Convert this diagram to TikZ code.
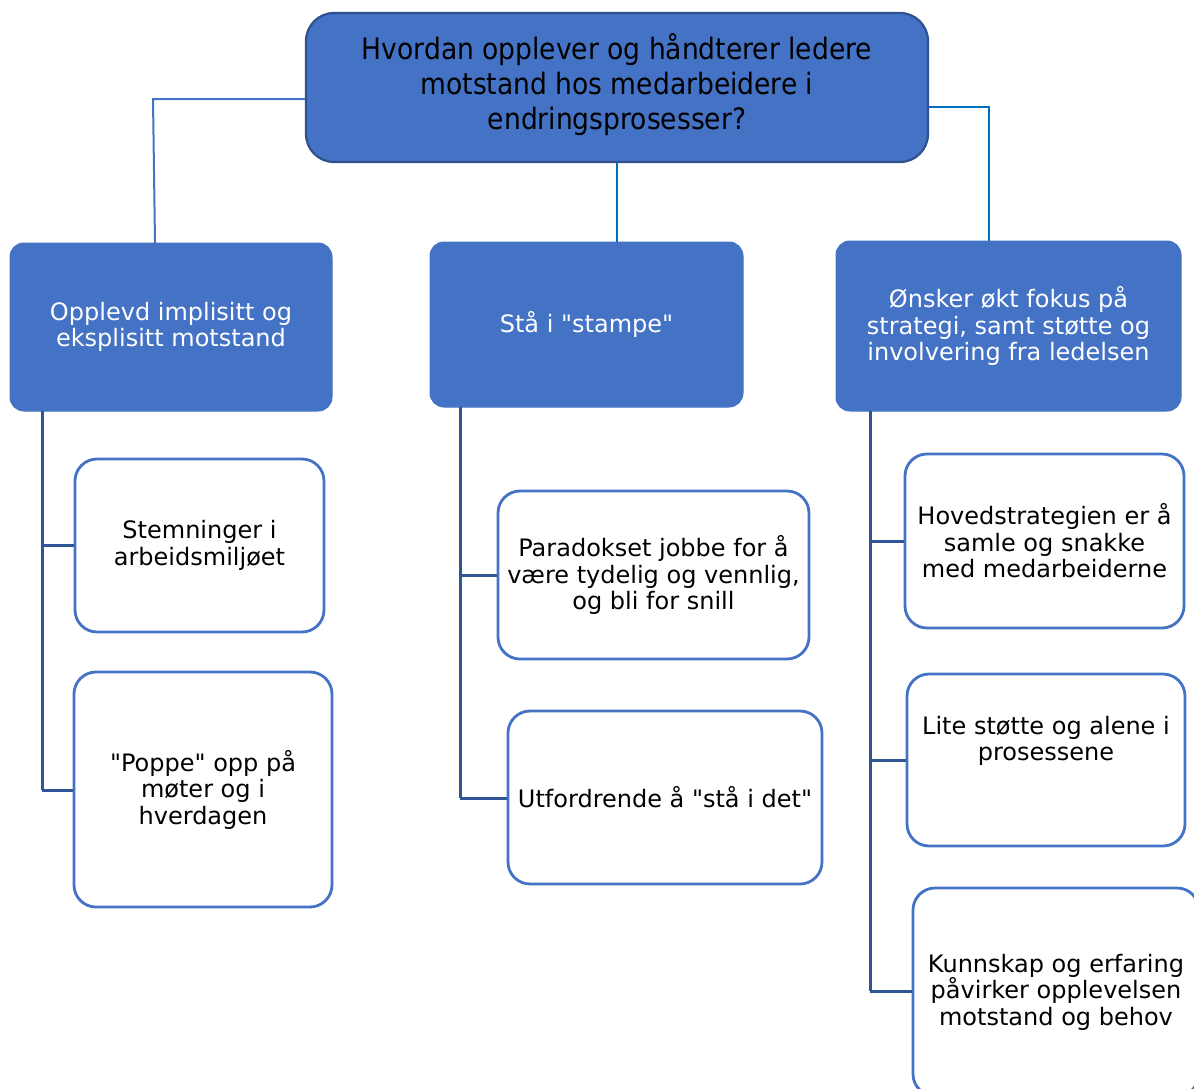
\documentclass[tikz,border=0pt]{standalone}
\usepackage{fontspec}
\setmainfont{DejaVu Sans}[Mapping=]
\newfontfamily\condfont{DejaVu Sans Condensed}[Mapping=]
\newcommand{\dq}{\symbol{34}}
\definecolor{fillblue}{HTML}{4472C4}
\definecolor{darkblue}{HTML}{2F528F}
\definecolor{linkblue}{HTML}{2F5597}
\definecolor{midblue}{HTML}{0070C0}
\begin{document}
\begin{tikzpicture}[x=1pt,y=-1pt,
  topbox/.style={draw=darkblue, line width=2.2pt, fill=fillblue, rounded corners=28pt, align=center, inner sep=0pt},
  catbox/.style={draw=fillblue, line width=1pt, fill=fillblue, rounded corners=14pt, align=center, inner sep=0pt, font=\fontsize{24}{26.5}\selectfont, text=white},
  leafbox/.style={draw=fillblue, line width=2.8pt, fill=white, rounded corners=22pt, align=center, inner sep=0pt, font=\fontsize{24}{26.5}\selectfont, text=black},
  leaftext/.style={align=center, inner sep=0pt, font=\fontsize{24}{26.5}\selectfont, text=black},
  link/.style={draw=linkblue, line width=3pt},
  toplink/.style={draw=fillblue, line width=2pt},
  midlink/.style={draw=midblue, line width=2pt}]
\useasboundingbox (0,0) rectangle (1194,1088);
\clip (0,0) rectangle (1194,1088);

% top
\node[topbox, minimum width=622pt, minimum height=149pt] (top) at (617,87.5) {};
\node[font=\condfont\fontsize{29.5}{35}\selectfont, align=center, inner sep=0pt] (toptext) at (617,85) {Hvordan opplever og håndterer ledere\\motstand hos medarbeidere i\\endringsprosesser?};

% categories
\node[catbox, minimum width=322pt, minimum height=168pt] (c1) at (171,327) {Opplevd implisitt og\\eksplisitt motstand};
\node[catbox, minimum width=313pt, minimum height=165pt] (c2) at (586.5,324.5) {Stå i \dq stampe\dq};
\node[catbox, minimum width=345pt, minimum height=170pt] (c3) at (1008.5,326) {Ønsker økt fokus på\\strategi, samt støtte og\\involvering fra ledelsen};

% leaves left
\node[leafbox, minimum width=249pt, minimum height=173pt] (l1) at (199.5,545.5) {Stemninger i\\arbeidsmiljøet};
\node[leafbox, minimum width=258pt, minimum height=235pt] (l2) at (203,789.5) {\dq Poppe\dq\ opp på\\møter og i\\hverdagen};

% leaves middle
\node[leafbox, minimum width=311pt, minimum height=168pt] (m1) at (653.5,575) {Paradokset jobbe for å\\være tydelig og vennlig,\\og bli for snill};
\node[leafbox, minimum width=314pt, minimum height=173pt] (m2) at (665,797.5) {Utfordrende å \dq stå i det\dq};

% leaves right
\node[leafbox, minimum width=279pt, minimum height=174pt] (r1) at (1044.5,541) {Hovedstrategien er å\\samle og snakke\\med medarbeiderne};
\node[leafbox, minimum width=278pt, minimum height=172pt] (r2) at (1046,760) {};
\node[leaftext] (r2t) at (1046,741) {Lite støtte og alene i\\prosessene};
\node[leafbox, minimum width=286pt, minimum height=208pt] (r3) at (1056,992) {Kunnskap og erfaring\\påvirker opplevelsen\\motstand og behov};

% top connectors
\coordinate (tl) at (153,99);
\coordinate (tr) at (989,107);
\draw[toplink] (top.west |- tl) -- (tl) -- (155,243);
\draw[midlink] (top.south) -- (top.south |- c2.north);
\draw[midlink] (top.east |- tr) -- (tr) -- (tr |- c3.north);

% left branch
\coordinate (lb) at (42,411);
\draw[link] (lb) -- (42,790);
\draw[link] (42,545.5) -- (l1.west);
\draw[link] (42,790) -- (l2.west |- 0,790);

% middle branch
\draw[link] (460,407) -- (460,798);
\draw[link] (460,575) -- (m1.west);
\draw[link] (460,798) -- (m2.west |- 0,798);

% right branch
\draw[link] (870,411) -- (870,991);
\draw[link] (870,541) -- (r1.west);
\draw[link] (870,760) -- (r2.west);
\draw[link] (870,991) -- (r3.west |- 0,991);
\end{tikzpicture}
\end{document}
